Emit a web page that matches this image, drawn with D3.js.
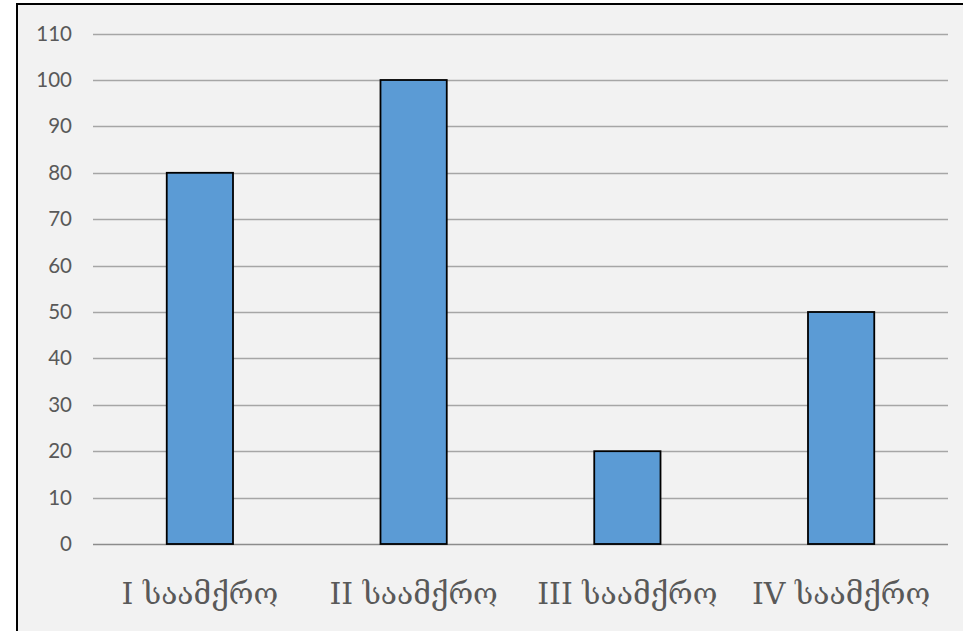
<!DOCTYPE html>
<html><head><meta charset="utf-8">
<script src="https://cdn.jsdelivr.net/npm/d3@7"></script>
<style>html,body{margin:0;padding:0;background:#fff;}svg{display:block;}</style>
</head><body>
<svg id="c" width="963" height="631"></svg>
<script>
const categories = ["I საამქრო", "II საამქრო", "III საამქრო", "IV საამქრო"];
const values = [80, 100, 20, 50];
const yTicks = [0, 10, 20, 30, 40, 50, 60, 70, 80, 90, 100, 110];

const svg = d3.select("#c");
const W = 963, H = 631;
svg.append("rect").attr("x", 17).attr("y", 4).attr("width", W).attr("height", H)
  .attr("fill", "#F2F2F2").attr("stroke", "#000").attr("stroke-width", 2);

const m = {left: 93, right: 948, top: 33.6, bottom: 544};
const x = d3.scaleBand().domain(categories).range([m.left, m.right]).paddingInner(0.69).paddingOuter(0.345);
const y = d3.scaleLinear().domain([0, 110]).range([m.bottom, m.top]);

const g = svg.append("g");
g.selectAll("line.grid").data(yTicks).join("line")
  .attr("x1", m.left).attr("x2", m.right)
  .attr("y1", d => Math.round(y(d)) + 0.5).attr("y2", d => Math.round(y(d)) + 0.5)
  .attr("stroke", d => d === 0 ? "#8c8c8c" : "#a6a6a6").attr("stroke-width", 1.3);

const yAxis = d3.axisLeft(y).tickValues(yTicks).tickSize(0).tickPadding(0);
const ya = svg.append("g").attr("transform", `translate(72,0)`).call(yAxis);
ya.select(".domain").remove();
ya.selectAll("text").attr("font-family", "Lato, 'Open Sans', sans-serif").attr("font-size", 20.5).attr("fill", "#595959");

g.selectAll("rect.bar").data(values).join("rect")
  .attr("x", (d, i) => x(categories[i])).attr("width", x.bandwidth())
  .attr("y", d => y(d)).attr("height", d => y(0) - y(d))
  .attr("fill", "#5B9BD5").attr("stroke", "#000").attr("stroke-width", 1.8);

const xAxis = d3.axisBottom(x).tickSize(0).tickPadding(0);
const xa = svg.append("g").attr("transform", `translate(0,604)`).call(xAxis);
xa.select(".domain").remove();
xa.selectAll("text").attr("dy", 0).attr("font-family", "'DejaVu Serif', 'Liberation Serif', serif")
  .attr("font-size", 30).attr("fill", "#595959");
</script>
</body></html>
